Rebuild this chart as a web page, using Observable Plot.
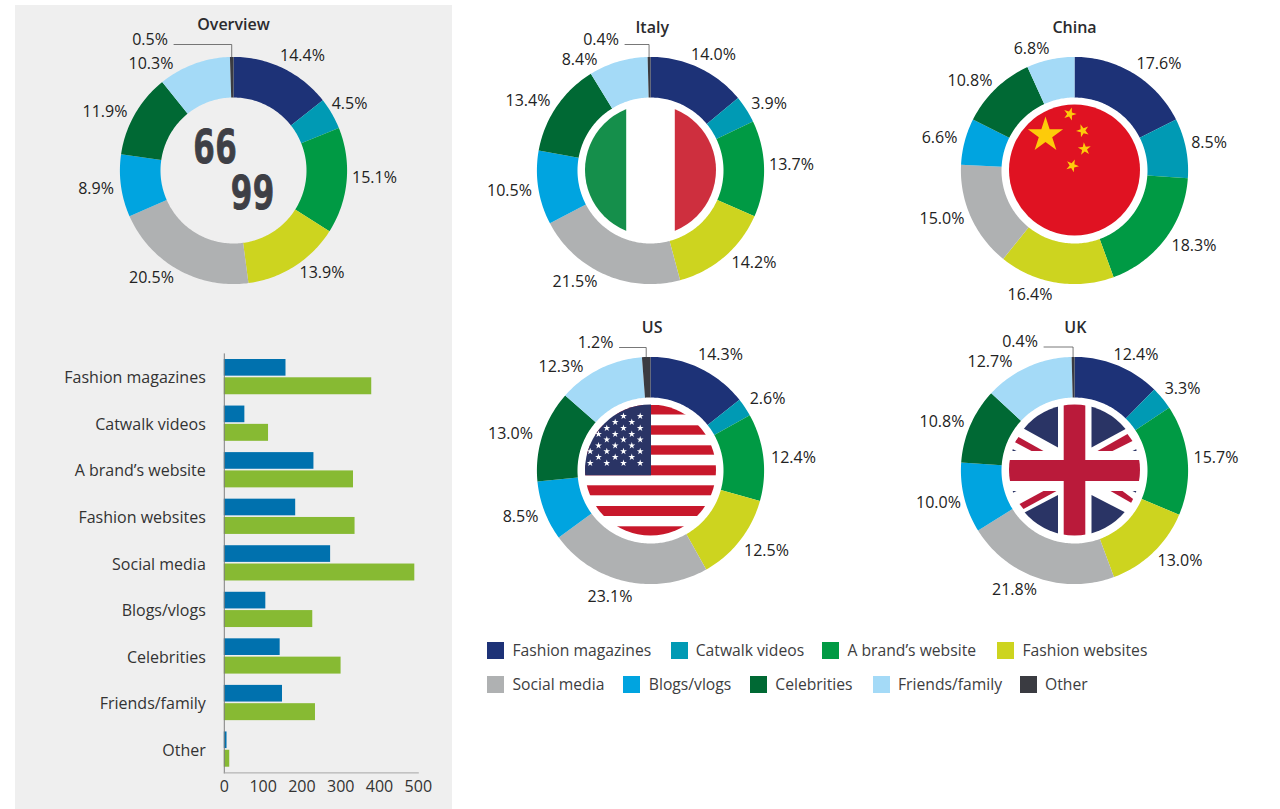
<!DOCTYPE html>
<html>
<head>
<meta charset="utf-8">
<script src="https://cdn.jsdelivr.net/npm/d3@7"></script>
<script src="https://cdn.jsdelivr.net/npm/@observablehq/plot@0.6"></script>
<style>
  html, body { margin: 0; padding: 0; background: #fff; }
  #stage { position: relative; width: 1280px; height: 809px; overflow: hidden; font-family: "Open Sans", sans-serif; }
  #panel { position: absolute; left: 15px; top: 5px; width: 437px; height: 804px; background: #efefef; }
  #stage svg { position: absolute; }
  .legend-swatch { position: absolute; width: 17px; height: 17px; }
  .legend-text { position: absolute; font-size: 15.7px; line-height: 20px; color: #3d3d40; white-space: nowrap; }
</style>
</head>
<body>
<div id="stage"><div id="panel"></div></div>
<script>
// ---------- data ----------
const categories = ["Fashion magazines", "Catwalk videos", "A brand\u2019s website", "Fashion websites", "Social media", "Blogs/vlogs", "Celebrities", "Friends/family", "Other"];
const overviewShares = [14.4, 4.5, 15.1, 13.9, 20.5, 8.9, 11.9, 10.3, 0.5];
const italyShares = [14.0, 3.9, 13.7, 14.2, 21.5, 10.5, 13.4, 8.4, 0.4];
const chinaShares = [17.6, 8.5, 18.3, 16.4, 15.0, 6.6, 10.8, 6.8, 0];
const usShares = [14.3, 2.6, 12.4, 12.5, 23.1, 8.5, 13.0, 12.3, 1.2];
const ukShares = [12.4, 3.3, 15.7, 13.0, 21.8, 10.0, 10.8, 12.7, 0.4];
const barBlue = [159, 53, 231, 184, 274, 107, 144, 150, 7];
const barGreen = [380, 114, 333, 337, 491, 228, 301, 235, 14];
const xTicks = [0, 100, 200, 300, 400, 500];

// ---------- styles ----------
const sliceColors = ["#1d3277", "#009ab4", "#009a44", "#cdd41f", "#afb1b2", "#00a4e0", "#006934", "#a4daf7", "#3a3b41"];
const blueColor = "#0071ae", greenColor = "#87ba33";
const outerRadius = 113.6, innerRadius = 73, flagRadius = 65.5;

// ---------- layout: hand-placed annotation offsets from each donut centre ----------
const overviewLabelAt = [[69,-115],[116,-67],[141,7],[88.5,102],[-82,107],[-137.5,18],[-128.5,-59],[-82.5,-107],[-83.5,-131]];
const italyLabelAt = [[63,-116],[118.5,-67],[141,-6],[103.5,92],[-75.5,111],[-141,20],[-122.5,-70],[-71,-111],[-49.5,-131]];
const chinaLabelAt = [[84.5,-107],[134.5,-28],[119.5,75],[-44.5,124],[-132.5,48],[-135,-33],[-104.5,-90],[-43,-122]];
const usLabelAt = [[70,-115.5],[117,-71.5],[143,-13],[116,80.5],[-40.5,126.5],[-130,46.5],[-140,-37],[-89.5,-104],[-55,-128]];
const ukLabelAt = [[61.5,-115.5],[108,-81.5],[141.5,-13],[105.5,90.5],[-60,119.5],[-136,32.5],[-132.5,-49],[-84.5,-108.5],[-54.5,-128.5]];

const donuts = [
  {title: "Overview", shares: overviewShares, labelAt: overviewLabelAt, cx: 233.2, cy: 169.7, titleAt: [0, -146], flag: "logo"},
  {title: "Italy", shares: italyShares, labelAt: italyLabelAt, cx: 650.3, cy: 169.7, titleAt: [1.7, -143], flag: "italy"},
  {title: "China", shares: chinaShares, labelAt: chinaLabelAt, cx: 1073.5, cy: 170, titleAt: [0, -143], flag: "china"},
  {title: "US", shares: usShares, labelAt: usLabelAt, cx: 650.3, cy: 470, titleAt: [1.7, -143], flag: "us"},
  {title: "UK", shares: ukShares, labelAt: ukLabelAt, cx: 1073.5, cy: 470, titleAt: [0.8, -143], flag: "uk"}
];

const legendRows = [
  {top: 641.5, swatch: [486.5, 670.5, 822, 996.5], text: [512.5, 695.7, 847.5, 1022.5], items: categories.slice(0, 4)},
  {top: 675.5, swatch: [486.5, 623, 749.5, 872.5, 1019.5], text: [512.5, 648.8, 775.3, 898, 1045], items: categories.slice(4)}
];

const stage = document.getElementById("stage");
const baseStyle = {background: "transparent", fontFamily: "'Open Sans', sans-serif", fontSize: "16px", overflow: "visible"};

// ---------- slices: polygons built from the shares, drawn by Plot.line ----------
function slicePolygons(shares) {
  const total = d3.sum(shares);
  const points = [];
  let cumulative = 0;
  shares.forEach((share, i) => {
    const a0 = cumulative / total * 2 * Math.PI;
    cumulative += share;
    const a1 = cumulative / total * 2 * Math.PI;
    if (!share) return;
    const n = Math.max(2, Math.ceil((a1 - a0) / 0.02));
    for (let k = 0; k <= n; ++k) {
      const a = a0 + (a1 - a0) * k / n;
      points.push({category: categories[i], x: outerRadius * Math.sin(a), y: -outerRadius * Math.cos(a)});
    }
    for (let k = n; k >= 0; --k) {
      const a = a0 + (a1 - a0) * k / n;
      points.push({category: categories[i], x: innerRadius * Math.sin(a), y: -innerRadius * Math.cos(a)});
    }
  });
  return points;
}

function starPath(cx, cy, r, rot = 0) {
  const pts = d3.range(10).map(k => {
    const a = rot - Math.PI / 2 + k * Math.PI / 5;
    const rr = k % 2 ? r * 0.382 : r;
    return [cx + rr * Math.cos(a), cy + rr * Math.sin(a)];
  });
  return "M" + pts.map(p => p.join(",")).join("L") + "Z";
}

// ---------- flag emblems ----------
const usRedRows = [[-65,-55.5],[-44.7,-35.3],[-24.7,-15.3],[-4.7,5.3],[15.3,25.3],[36,46],[56.3,66]];
const usStarRows = [[-54,[-27,-10.3]],[-48,[-35.3,-18.7]],[-42,[-43.7,-27,-10.3]],[-36,[-52,-35.3,-18.7]],[-30.5,[-43.7,-27,-10.3]],[-24.5,[-52,-35.3,-18.7]],[-18.7,[-60.3,-43.7,-27,-10.3]],[-13,[-52,-35.3,-18.7]],[-7,[-60.3,-43.7,-27,-10.3]]];
const ukTriangles = [
  [[-16.5,-70],[-16.5,-22.5],[-51,-41.5],[-70,-52],[-70,-70]],
  [[17,-70],[17,-22.5],[52,-41.5],[70,-52],[70,-70]],
  [[-16.5,25],[-16.5,70],[-70,70],[-70,56],[-49,42]],
  [[17,25],[17,70],[70,70],[70,55],[50,42]],
  [[-62,-19],[-58,-19],[-62,-21]], [[62,-19],[58,-19],[62,-21]],
  [[-62,21],[-58,21],[-62,23]], [[62,21],[58,21],[62,23]]
];
const ukRedDiagonals = [
  [[-60,-28],[-56,-33],[-31,-19],[-43,-19]],
  [[23,-19],[53,-36],[58,-29],[38,-19]],
  [[-55,34],[-51,39],[-18,21],[-31,21]],
  [[36,21],[48,21],[60,30],[57,33]]
];
const chinaStars = [[-29,-35,18.5,0],[-4.7,-56,6.8,0.3],[8.3,-39.3,6.8,0.9],[10,-21,6.8,-0.1],[-2.3,-4.3,6.8,0.4]];

function emblem(kind, title) {
  return (index, {x, y}) => {
    const g = d3.create("svg:g").attr("transform", `translate(${x(0) + 0.5},${y(0)})`);
    const clipId = "clip-" + kind;
    g.append("clipPath").attr("id", clipId).append("circle").attr("r", flagRadius);
    const f = g.append("g").attr("clip-path", `url(#${clipId})`);
    const rect = (x0, y0, x1, y1, fill) => f.append("rect").attr("x", x0).attr("y", y0).attr("width", x1 - x0).attr("height", y1 - y0).attr("fill", fill);
    const poly = (pts, fill) => f.append("polygon").attr("points", pts.map(p => p.join(",")).join(" ")).attr("fill", fill);
    if (kind === "italy") {
      rect(-70, -70, -24.3, 70, "#158f4b");
      rect(24.3, -70, 70, 70, "#ce2f3e");
    } else if (kind === "china") {
      rect(-70, -70, 70, 70, "#e01222");
      chinaStars.forEach(([sx, sy, r, rot]) => f.append("path").attr("d", starPath(sx, sy, r, rot)).attr("fill", "#fdcb0a"));
    } else if (kind === "us") {
      usRedRows.forEach(([y0, y1]) => rect(-70, y0, 70, y1, "#c8182b"));
      rect(-70, -70, 0.5, 5.3, "#2a3465");
      usStarRows.forEach(([sy, xs]) => xs.forEach(sx => f.append("path").attr("d", starPath(sx, sy, 3.6)).attr("fill", "#fff")));
    } else if (kind === "uk") {
      ukTriangles.forEach(t => poly(t, "#2a3465"));
      ukRedDiagonals.forEach(t => poly(t, "#ba1a3a"));
      rect(-10.8, -70, 10.8, 70, "#ba1a3a");
      rect(-70, -10, 70, 11, "#ba1a3a");
    }
    return g.node();
  };
}

// ---------- donuts ----------
for (const d of donuts) {
  const labels = d.shares.map((s, i) => ({share: s, i})).filter(o => o.share > 0)
    .map(o => ({text: o.share.toFixed(1) + "%", x: d.labelAt[o.i][0], y: d.labelAt[o.i][1]}));
  const otherShare = d.shares[8];
  const marks = [
    Plot.line(slicePolygons(d.shares), {x: "x", y: "y", z: "category", fill: "category", stroke: "none", curve: "linear-closed"}),
    Plot.text(labels, {x: "x", y: "y", text: "text", fontSize: 16, fill: "#222"}),
    Plot.text([d.title], {x: [d.titleAt[0]], y: [d.titleAt[1]], text: t => t, fontSize: 16, fontWeight: 600, fill: "#2b2b2e"})
  ];
  if (otherShare > 0) {
    const a = -otherShare / 2 / d3.sum(d.shares) * 2 * Math.PI;
    const bendX = outerRadius * Math.sin(a), lab = d.labelAt[8];
    marks.push(Plot.line([[lab[0] + 24, lab[1] + 5], [bendX, lab[1] + 5], [bendX, -outerRadius]], {stroke: "#555", strokeWidth: 0.8}));
  }
  if (d.flag === "logo") {
    marks.push(Plot.text(["66", "99"], {x: [-18.5, 19], y: [-22, 24], text: t => t, fontSize: 46, fontWeight: 700, fill: "#3e3f46", stroke: "#3e3f46", strokeWidth: 1, fontFamily: "DejaVu Sans Mono", className: "logo-digits"}));
  } else {
    marks.push(emblem(d.flag, d.title));
  }
  const chart = Plot.plot({
    width: 340, height: 340, margin: 0,
    style: baseStyle,
    x: {domain: [-170, 170], range: [0, 340], axis: null},
    y: {domain: [-170, 170], range: [0, 340], axis: null},
    color: {domain: categories, range: sliceColors},
    marks
  });
  chart.style.left = (d.cx - 170) + "px";
  chart.style.top = (d.cy - 170) + "px";
  chart.querySelectorAll(".logo-digits text").forEach(t => {
    t.setAttribute("textLength", 44);
    t.setAttribute("lengthAdjust", "spacingAndGlyphs");
  });
  stage.appendChild(chart);
}

// ---------- bar chart ----------
const bars = Plot.plot({
  width: 452, height: 809,
  marginLeft: 223.8, marginRight: 34.2, marginTop: 353.4, marginBottom: 36.6,
  style: {...baseStyle, color: "#333"},
  x: {domain: [0, 500], ticks: xTicks, label: null},
  y: {domain: categories, padding: 0, round: false, label: null},
  marks: [
    Plot.barX(barBlue, {x: d => d, y: (d, i) => categories[i], fill: blueColor, insetTop: 5.6, insetBottom: 24.3}),
    Plot.barX(barGreen, {x: d => d, y: (d, i) => categories[i], fill: greenColor, insetTop: 23.9, insetBottom: 5.7}),
    Plot.axisX({ticks: xTicks, tickSize: 0, tickPadding: 8, fontSize: 16, label: null, fill: "#333", tickFormat: d => d}),
    Plot.axisY({tickSize: 0, tickPadding: 18.5, dy: 1, fontSize: 16, label: null, fill: "#333"}),
    Plot.frame({anchor: "left", stroke: "#7f7f7f"}),
    Plot.frame({anchor: "bottom", stroke: "#a5a5a5"})
  ]
});
bars.style.left = "0px";
bars.style.top = "0px";
stage.appendChild(bars);

// ---------- legend ----------
for (const row of legendRows) {
  row.items.forEach((name, i) => {
    const sw = document.createElement("div");
    sw.className = "legend-swatch";
    sw.style.left = row.swatch[i] + "px";
    sw.style.top = row.top + "px";
    sw.style.background = sliceColors[categories.indexOf(name)];
    stage.appendChild(sw);
    const tx = document.createElement("div");
    tx.className = "legend-text";
    tx.style.left = row.text[i] + "px";
    tx.style.top = (row.top - 1.5) + "px";
    tx.textContent = name;
    stage.appendChild(tx);
  });
}
</script>
</body>
</html>
